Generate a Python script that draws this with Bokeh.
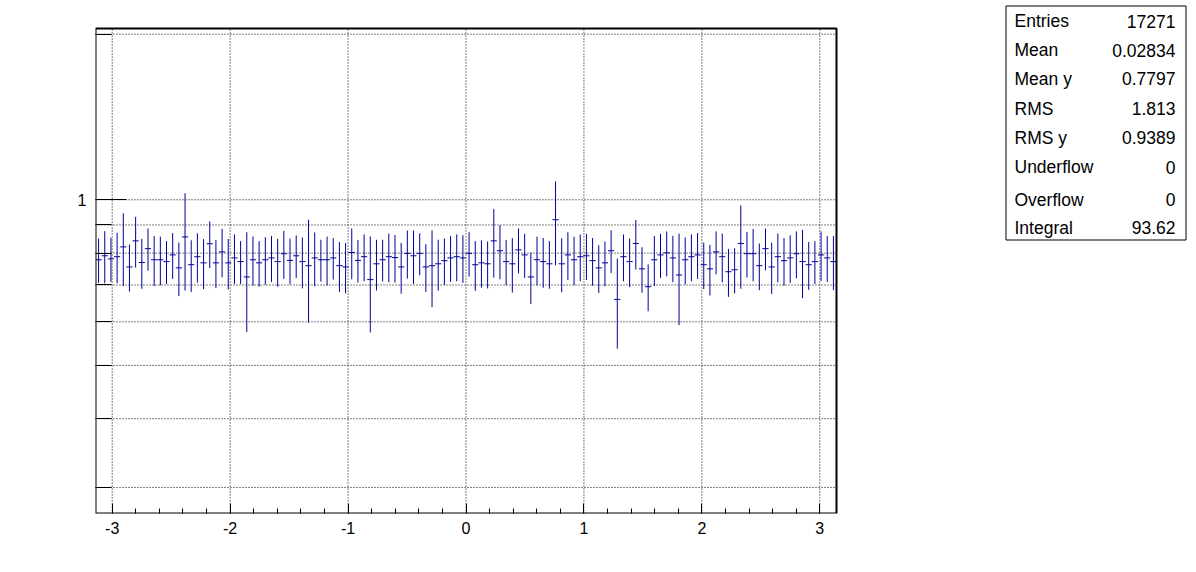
import numpy as np
from bokeh.plotting import figure
from bokeh.models import Range1d, FixedTicker, BasicTickFormatter, LinearScale
from bokeh.core.properties import value
from bokeh.embed import file_html
from bokeh.resources import INLINE

# ---------------- data ----------------
n_bins = 120
x_lo, x_hi = -np.pi, np.pi
y_lo, y_hi = 0.269, 2.048

profile_mean = [
    0.778, 0.791, 0.781, 0.788, 0.821, 0.755, 0.842, 0.769, 0.815, 0.778,
    0.778, 0.772, 0.794, 0.752, 0.856, 0.762, 0.788, 0.768, 0.832, 0.768,
    0.804, 0.768, 0.784, 0.772, 0.724, 0.778, 0.768, 0.778, 0.784, 0.772,
    0.798, 0.776, 0.791, 0.772, 0.759, 0.784, 0.778, 0.778, 0.784, 0.759,
    0.755, 0.802, 0.776, 0.788, 0.716, 0.765, 0.778, 0.788, 0.785, 0.755,
    0.799, 0.791, 0.799, 0.755, 0.759, 0.765, 0.775, 0.784, 0.788, 0.784,
    0.799, 0.762, 0.768, 0.765, 0.842, 0.808, 0.772, 0.765, 0.811, 0.794,
    0.724, 0.778, 0.772, 0.765, 0.920, 0.765, 0.794, 0.778, 0.788, 0.791,
    0.775, 0.752, 0.768, 0.808, 0.659, 0.788, 0.772, 0.833, 0.749, 0.695,
    0.778, 0.794, 0.801, 0.784, 0.730, 0.778, 0.788, 0.794, 0.762, 0.749,
    0.804, 0.788, 0.740, 0.746, 0.833, 0.798, 0.798, 0.759, 0.815, 0.755,
    0.788, 0.775, 0.784, 0.798, 0.772, 0.762, 0.772, 0.794, 0.784, 0.772,
]

profile_err = [
    0.072, 0.086, 0.072, 0.083, 0.124, 0.074, 0.089, 0.080, 0.072, 0.081,
    0.079, 0.069, 0.076, 0.084, 0.172, 0.082, 0.081, 0.080, 0.081, 0.077,
    0.081, 0.081, 0.081, 0.069, 0.149, 0.080, 0.073, 0.077, 0.075, 0.077,
    0.080, 0.074, 0.070, 0.082, 0.161, 0.088, 0.068, 0.079, 0.068, 0.079,
    0.079, 0.085, 0.069, 0.077, 0.142, 0.081, 0.068, 0.080, 0.078, 0.080,
    0.080, 0.088, 0.070, 0.075, 0.121, 0.081, 0.075, 0.075, 0.077, 0.078,
    0.074, 0.079, 0.076, 0.075, 0.120, 0.091, 0.073, 0.087, 0.076, 0.073,
    0.078, 0.079, 0.080, 0.076, 0.160, 0.086, 0.079, 0.079, 0.077, 0.076,
    0.077, 0.075, 0.072, 0.072, 0.123, 0.077, 0.078, 0.086, 0.071, 0.068,
    0.081, 0.073, 0.075, 0.076, 0.138, 0.076, 0.077, 0.076, 0.074, 0.079,
    0.072, 0.080, 0.074, 0.070, 0.144, 0.076, 0.087, 0.074, 0.071, 0.081,
    0.080, 0.077, 0.078, 0.078, 0.110, 0.076, 0.069, 0.082, 0.075, 0.087,
]

x_tick_values = [-3, -2, -1, 0, 1, 2, 3]
x_tick_labels = ["-3", "-2", "-1", "0", "1", "2", "3"]
y_tick_values = [1]
y_tick_labels = ["1"]
y_minor_tick_values = [0.3, 0.4, 0.5, 0.6, 0.7, 0.8, 0.9, 2]

stat_names = ["Entries", "Mean", "Mean y", "RMS", "RMS y", "Underflow", "Overflow", "Integral"]
stat_values = ["17271", "0.02834", "0.7797", "1.813", "0.9389", "0", "0", "93.62"]

# ---------------- derived ----------------
edges = np.linspace(x_lo, x_hi, n_bins + 1)
centers = 0.5 * (edges[:-1] + edges[1:])
mean = np.array(profile_mean)
err = np.array(profile_err)

FONT = "Liberation Sans"
BAR_COLOR = "#000099"

# Layout (pixels): plot box 741 x 485 at (95, 28); canvas 1188 x 560.
# The Bokeh frame is widened to the right and upward so that the statistics
# box (drawn in pixel-like extra ranges) is not clipped away.
BOX_W, BOX_H = 741, 485
LEFT, TOP_GAP = 95, 28
CANVAS_W, BOTTOM = 1188, 47
FRAME_W = CANVAS_W - LEFT
FRAME_H = BOX_H + TOP_GAP

x_end = x_lo + (x_hi - x_lo) * FRAME_W / BOX_W
dec_per_px = (np.log10(y_hi) - np.log10(y_lo)) / BOX_H
y_end = 10 ** (np.log10(y_hi) + TOP_GAP * dec_per_px)

p = figure(
    frame_width=FRAME_W, frame_height=FRAME_H,
    min_border_left=LEFT, min_border_right=0,
    min_border_top=0, min_border_bottom=BOTTOM,
    x_range=Range1d(x_lo, x_end),
    y_range=Range1d(y_lo, y_end),
    y_axis_type="log",
    output_backend="svg", toolbar_location=None,
    background_fill_color="white", border_fill_color="white",
)
p.outline_line_color = None
p.xgrid.visible = False
p.ygrid.visible = False

# x axis
x_minor = [round(v, 1) for v in np.arange(-3.0, 3.01, 0.2) if abs(v - round(v)) > 1e-6]
p.xaxis.ticker = FixedTicker(ticks=x_tick_values, minor_ticks=x_minor)
p.xaxis.major_label_overrides = dict(zip(x_tick_values, x_tick_labels))
p.xaxis.axis_line_color = None
p.xaxis.major_tick_in = 10
p.xaxis.major_tick_out = 0
p.xaxis.minor_tick_in = 5
p.xaxis.minor_tick_out = 0
p.xaxis.major_tick_line_color = "black"
p.xaxis.minor_tick_line_color = "black"
p.xaxis.major_label_text_font = FONT
p.xaxis.major_label_text_font_size = "16px"
p.xaxis.major_label_text_color = "black"
p.xaxis.major_label_standoff = 8

# y axis
p.yaxis.ticker = FixedTicker(ticks=y_tick_values, minor_ticks=y_minor_tick_values)
p.yaxis.formatter = BasicTickFormatter()
p.yaxis.major_label_overrides = dict(zip(y_tick_values, y_tick_labels))
p.yaxis.axis_line_color = None
p.yaxis.major_tick_in = 31
p.yaxis.major_tick_out = 0
p.yaxis.minor_tick_in = 16
p.yaxis.minor_tick_out = 0
p.yaxis.major_tick_line_color = "black"
p.yaxis.minor_tick_line_color = "black"
p.yaxis.major_label_text_font = FONT
p.yaxis.major_label_text_font_size = "16px"
p.yaxis.major_label_text_color = "black"
p.yaxis.major_label_standoff = 9

# dotted grid, restricted to the plot box
grid_y = y_tick_values + y_minor_tick_values
p.segment(x0=x_tick_values, y0=[y_lo] * len(x_tick_values),
          x1=x_tick_values, y1=[y_hi] * len(x_tick_values),
          line_color="black", line_width=1, line_dash="1 2")
p.segment(x0=[x_lo] * len(grid_y), y0=grid_y, x1=[x_hi] * len(grid_y), y1=grid_y,
          line_color="black", line_width=1, line_dash="1 2")

# profile error bars
p.segment(x0=centers, y0=mean - err, x1=centers, y1=mean + err,
          line_color=BAR_COLOR, line_width=1)
p.segment(x0=edges[:-1], y0=mean, x1=edges[1:], y1=mean,
          line_color=BAR_COLOR, line_width=1)

# plot box frame
p.quad(left=[x_lo], right=[x_hi], bottom=[y_lo], top=[y_hi],
       fill_color=None, line_color="black", line_width=2)

# ---------------- statistics box (pixel coordinates) ----------------
p.extra_x_ranges = {"px": Range1d(LEFT, CANVAS_W)}
p.extra_y_ranges = {"py": Range1d(FRAME_H, 0)}
p.extra_x_scales = {"px": LinearScale()}
p.extra_y_scales = {"py": LinearScale()}

p.quad(left=[1005.5], right=[1185.5], top=[5.5], bottom=[239.5],
       fill_color="white", line_color="black", line_width=1,
       x_range_name="px", y_range_name="py")
baselines = [20.7, 49.7, 78.3, 108.0, 137.3, 166.7, 199.0, 227.3]
p.text(x=[1014] * len(stat_names), y=baselines, text=stat_names,
       text_font=value(FONT), text_font_size="17.5px", text_color="black",
       text_align="left", text_baseline="alphabetic",
       x_range_name="px", y_range_name="py")
p.text(x=[1175] * len(stat_values), y=baselines, text=stat_values,
       text_font=value(FONT), text_font_size="17.5px", text_color="black",
       text_align="right", text_baseline="alphabetic",
       x_range_name="px", y_range_name="py")

open("out.html", "w").write(file_html(p, INLINE))
